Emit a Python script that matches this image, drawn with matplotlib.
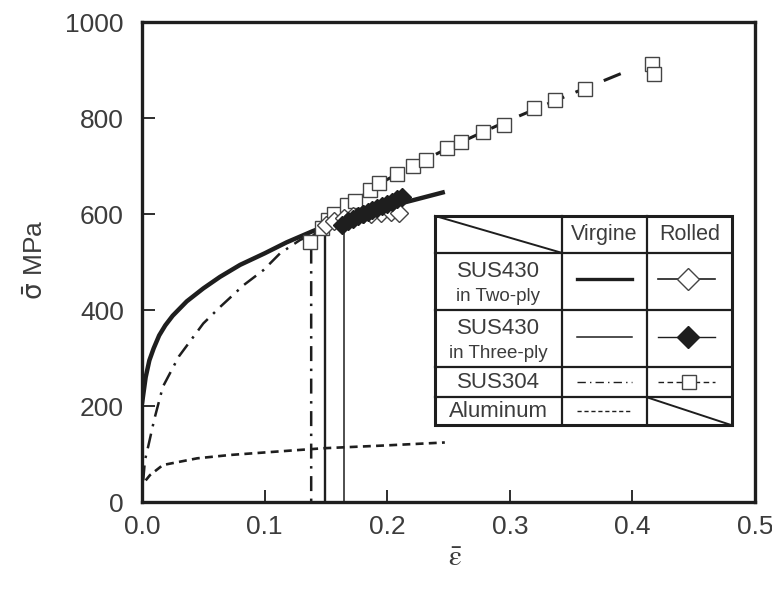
import numpy as np
import matplotlib.pyplot as plt
from matplotlib.patches import Rectangle

plt.rcParams['font.family'] = ['Liberation Sans', 'DejaVu Sans']

# --- data ---
# SUS430 in two-ply, virgin (thick solid)
two_virgin_eps = [0.0, 0.003, 0.006, 0.0095, 0.014, 0.019, 0.025, 0.0365, 0.05, 0.0636,
                  0.08, 0.10, 0.118, 0.139, 0.16, 0.18, 0.20, 0.22, 0.247]
two_virgin_sig = [205, 260, 295, 320, 347, 368, 388, 418, 445, 469,
                  494, 518, 541, 564, 585, 601, 615, 628, 646]

# SUS430 in three-ply, virgin (thin solid)
three_virgin_eps = [0.0, 0.003, 0.006, 0.0095, 0.014, 0.019, 0.025, 0.0365, 0.05, 0.0636,
                    0.08, 0.10, 0.118, 0.139, 0.165]
three_virgin_sig = [205, 260, 295, 320, 347, 368, 388, 418, 445, 469,
                    494, 518, 541, 564, 589]

# pre-strain of the rolled sheets (vertical lines)
pre_eps_two, pre_sig_two = 0.149, 575
pre_eps_three, pre_sig_three = 0.165, 587

# SUS304, virgin (dash-dot)
sus304_virgin_eps = [0.001, 0.0024, 0.005, 0.010, 0.017, 0.030, 0.05, 0.064, 0.083,
                     0.099, 0.1126, 0.129, 0.138, 0.138]
sus304_virgin_sig = [45, 87, 115, 172, 240, 303, 372, 407, 452,
                     483, 518, 546, 556, 0]

# Aluminum, virgin (dashed)
al_eps = [0.003, 0.0065, 0.017, 0.045, 0.072, 0.099, 0.126, 0.148, 0.20, 0.247]
al_sig = [45, 56, 77, 91, 98, 103, 108, 112, 118, 124]

# SUS430 in two-ply, rolled (open diamonds)
two_rolled_eps = [0.150, 0.157, 0.165, 0.172, 0.180, 0.187, 0.195, 0.203, 0.210]
two_rolled_sig = [578, 585, 591, 596, 599, 601, 603, 604, 602]

# SUS430 in three-ply, rolled (filled diamonds)
three_rolled_eps = [0.163, 0.168, 0.172, 0.176, 0.180, 0.184, 0.188, 0.192, 0.196,
                    0.200, 0.204, 0.208, 0.212]
three_rolled_sig = [577, 585, 590, 596, 600, 605, 609, 613, 617, 621, 626, 631, 636]

# SUS304, rolled (open squares) and its dashed curve
sus304_rolled_eps = [0.137, 0.1466, 0.152, 0.157, 0.167, 0.174, 0.186, 0.193, 0.208,
                     0.221, 0.232, 0.2485, 0.260, 0.278, 0.295, 0.320, 0.337, 0.361,
                     0.4157, 0.418]
sus304_rolled_sig = [542, 570, 587, 601, 619, 628, 649, 664, 683,
                     699, 712, 738, 749, 770, 785, 820, 837, 860,
                     913, 891]
sus304_fit_eps = [0.137, 0.16, 0.20, 0.25, 0.30, 0.35, 0.394]
sus304_fit_sig = [548, 605, 672, 738, 796, 850, 896]

x_ticks = [0.0, 0.1, 0.2, 0.3, 0.4, 0.5]
y_ticks = [0, 200, 400, 600, 800, 1000]

ink = '#1e1e1e'
txt = '#3c3c3c'
dashdot = (0, (6, 3, 1, 3))
dash = (0, (3, 2))
longdash = (0, (6, 4))

fig = plt.figure(figsize=(7.72, 5.93), dpi=100)
ax = fig.add_axes([142 / 772, 91 / 593, 613 / 772, 480 / 593])

# virgin curves
ax.plot(two_virgin_eps, two_virgin_sig, color=ink, lw=3.2, solid_capstyle='butt',
        solid_joinstyle='round', zorder=3)
ax.plot(three_virgin_eps, three_virgin_sig, color=ink, lw=1.2, zorder=3)
ax.vlines(pre_eps_two, 0, pre_sig_two, color=ink, lw=1.7, zorder=3)
ax.vlines(pre_eps_three, 0, pre_sig_three, color=ink, lw=1.1, zorder=3)
ax.plot(sus304_virgin_eps, sus304_virgin_sig, color=ink, lw=1.8, linestyle=dashdot, zorder=3)
ax.plot(al_eps, al_sig, color=ink, lw=1.9, linestyle=dash, zorder=3)

# rolled data
ax.plot(sus304_fit_eps, sus304_fit_sig, color=ink, lw=2.2, linestyle=longdash, zorder=3)
ax.plot(sus304_rolled_eps, sus304_rolled_sig, linestyle='none', marker='s', ms=10,
        mfc='white', mec='#444444', mew=1.0, zorder=4)
ax.plot(two_rolled_eps, two_rolled_sig, color=ink, lw=1.2, marker='D', ms=9,
        mfc='white', mec='#444444', mew=1.0, zorder=5)
ax.plot(three_rolled_eps, three_rolled_sig, color=ink, lw=1.5, marker='D', ms=9.5,
        mfc=ink, mec=ink, mew=1.0, zorder=6)

ax.set_xlim(0, 0.5)
ax.set_ylim(0, 1000)
ax.set_xticks(x_ticks)
ax.set_xticklabels([f'{v:.1f}' for v in x_ticks])
ax.set_yticks(y_ticks)
ax.tick_params(direction='in', length=9, width=1.3, color=ink, labelsize=19,
               labelcolor=txt)
ax.tick_params(axis='x', pad=9)
ax.tick_params(axis='y', pad=13)
for s in ax.spines.values():
    s.set_linewidth(2.4)
    s.set_color(ink)

fig.text(36 / 772, 1 - 260 / 593, r'$\bar{\mathrm{\sigma}}$ MPa', rotation=90,
         ha='center', va='center', fontsize=19, color=txt)
fig.text(455 / 772, 1 - 558 / 593, r'$\bar{\mathrm{\varepsilon}}$', ha='center',
         va='center', fontsize=21, color=txt, math_fontfamily='stix')

# --- legend table (axes fraction coords) ---
T = ax.transAxes
x0, x1, x2, x3 = 0.478, 0.685, 0.824, 0.962
ytop, ybot = 0.596, 0.160
rows = [0.596, 0.519, 0.400, 0.282, 0.218, 0.160]
ax.add_patch(Rectangle((x0, ybot), x3 - x0, ytop - ybot, transform=T, facecolor='white',
                       edgecolor=ink, lw=2.2, zorder=10))
for y in rows[1:-1]:
    ax.plot([x0, x3], [y, y], color=ink, lw=1.6, transform=T, zorder=11)
for x in (x1, x2):
    ax.plot([x, x], [ybot, ytop], color=ink, lw=1.6, transform=T, zorder=11)
ax.plot([x0, x1], [rows[0], rows[1]], color=ink, lw=1.4, transform=T, zorder=11)
ax.plot([x2, x3], [rows[4], rows[5]], color=ink, lw=1.4, transform=T, zorder=11)

cx1, cx2 = (x0 + x1) / 2, (x1 + x2) / 2
cx3 = (x2 + x3) / 2
hy = (rows[0] + rows[1]) / 2
ax.text(cx2, hy, 'Virgine', transform=T, ha='center', va='center', fontsize=15.5,
        color=txt, zorder=12)
ax.text(cx3, hy, 'Rolled', transform=T, ha='center', va='center', fontsize=15.5,
        color=txt, zorder=12)

labels = [('SUS430', 'in Two-ply'), ('SUS430', 'in Three-ply'), ('SUS304', None),
          ('Aluminum', None)]
for i, (main, sub) in enumerate(labels):
    ya, yb = rows[i + 1], rows[i + 2]
    yc = (ya + yb) / 2
    if sub:
        ax.text(cx1, yc + 0.020, main, transform=T, ha='center', va='center',
                fontsize=16, color=txt, zorder=12)
        ax.text(cx1, yc - 0.032, sub, transform=T, ha='center', va='center',
                fontsize=13.5, color=txt, zorder=12)
    else:
        ax.text(cx1, yc, main, transform=T, ha='center', va='center',
                fontsize=16, color=txt, zorder=12)

lx = [x1 + 0.025, x2 - 0.025]
rx = [x2 + 0.017, x3 - 0.027]
ry = [(rows[k] + rows[k + 1]) / 2 for k in range(1, 5)]
ry[0] += 0.005
ry[1] += 0.002
ax.plot(lx, [ry[0]] * 2, color=ink, lw=2.4, transform=T, zorder=12)
ax.plot(lx, [ry[1]] * 2, color=ink, lw=1.1, transform=T, zorder=12)
ax.plot(lx, [ry[2]] * 2, color=ink, lw=1.0, linestyle=dashdot, transform=T, zorder=12)
ax.plot(lx, [ry[3]] * 2, color=ink, lw=1.0, linestyle=dash, transform=T, zorder=12)
ax.plot(rx, [ry[0]] * 2, color=ink, lw=1.2, transform=T, zorder=12)
ax.plot([cx3 - 0.003], [ry[0]], marker='D', ms=11, mfc='white', mec='#444444', mew=1.0,
        transform=T, zorder=13)
ax.plot(rx, [ry[1]] * 2, color=ink, lw=1.0, transform=T, zorder=12)
ax.plot([cx3 - 0.003], [ry[1]], marker='D', ms=11, mfc=ink, mec=ink, transform=T,
        zorder=13)
ax.plot(rx, [ry[2]] * 2, color=ink, lw=1.0, linestyle=(0, (4, 2.5)), transform=T, zorder=12)
ax.plot([cx3], [ry[2]], marker='s', ms=10, mfc='white', mec='#444444', mew=1.0,
        transform=T, zorder=13)

fig.savefig('out.png', dpi=100)
